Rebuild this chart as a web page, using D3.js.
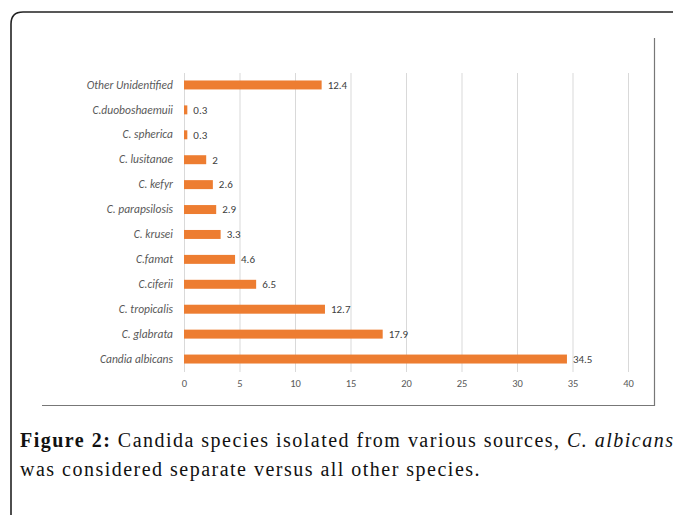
<!DOCTYPE html>
<html>
<head>
<meta charset="utf-8">
<script src="https://cdn.jsdelivr.net/npm/d3@7"></script>
<style>
  html, body { margin: 0; padding: 0; background: #fff; overflow: hidden; }
  svg { display: block; }
</style>
</head>
<body>
<svg id="chart" width="673" height="515"></svg>
<script>
// Candida species isolated from various sources (%)
const species = [
  "Other Unidentified", "C.duoboshaemuii", "C. spherica", "C. lusitanae",
  "C. kefyr", "C. parapsilosis", "C. krusei", "C.famat", "C.ciferii",
  "C. tropicalis", "C. glabrata", "Candia albicans"
];
const percentages = [12.4, 0.3, 0.3, 2, 2.6, 2.9, 3.3, 4.6, 6.5, 12.7, 17.9, 34.5];
const xTicks = [0, 5, 10, 15, 20, 25, 30, 35, 40];

const sansFont = "Carlito, Lato, 'Open Sans', 'Liberation Sans', sans-serif";
const serifFont = "'Liberation Serif', 'DejaVu Serif', serif";

const svg = d3.select("#chart");

// outer figure frame (rounded top-left corner, runs off right and bottom)
svg.append("path")
  .attr("d", "M11,520 L11,24 Q11,12 23,12 L680,12")
  .attr("fill", "none").attr("stroke", "#222").attr("stroke-width", 1.6);

// chart panel border: right and bottom edges
svg.append("path")
  .attr("d", "M42,405.5 L654.5,405.5 L654.5,38")
  .attr("fill", "none").attr("stroke", "#777").attr("stroke-width", 1.2);

const x = d3.scaleLinear().domain([0, 40]).range([184, 628]);
const y = d3.scaleBand().domain(species).range([73, 371])
  .paddingInner(0.64).paddingOuter(0.3);

// vertical gridlines
svg.append("g").selectAll("line").data(xTicks).join("line")
  .attr("x1", d => x(d) + 0.5).attr("x2", d => x(d) + 0.5)
  .attr("y1", 73).attr("y2", 372)
  .attr("stroke", "#d9d9d9").attr("stroke-width", 1);

// x axis tick labels
const xAxis = d3.axisBottom(x).tickValues(xTicks).tickSize(0).tickPadding(0);
const gx = svg.append("g").attr("transform", "translate(0,380)").call(xAxis);
gx.select(".domain").remove();
gx.selectAll("text")
  .attr("dy", "0.71em")
  .attr("fill", "#595959")
  .style("font-family", sansFont)
  .style("font-size", "10.5px");

// category labels
const yAxis = d3.axisLeft(y).tickSize(0).tickPadding(0);
const gy = svg.append("g").attr("transform", "translate(173,0)").call(yAxis);
gy.select(".domain").remove();
gy.selectAll("text")
  .attr("fill", "#595959")
  .style("font-family", sansFont)
  .style("font-style", "italic")
  .style("font-size", "11.5px");

// bars
svg.append("g").selectAll("rect").data(species).join("rect")
  .attr("x", x(0))
  .attr("y", (d) => y(d))
  .attr("width", (d, i) => x(percentages[i]) - x(0))
  .attr("height", y.bandwidth())
  .attr("fill", "#ED7D31");

// value labels
svg.append("g").selectAll("text").data(species).join("text")
  .attr("x", (d, i) => x(percentages[i]) + 6)
  .attr("y", d => y(d) + y.bandwidth() / 2)
  .attr("dy", "0.35em")
  .attr("fill", "#404040")
  .style("font-family", sansFont)
  .style("font-size", "11px")
  .text((d, i) => percentages[i]);

// caption
const cap1 = svg.append("text")
  .attr("x", 20).attr("y", 447)
  .attr("fill", "#111")
  .style("font-family", serifFont)
  .style("font-size", "20px");
cap1.append("tspan").style("font-weight", "bold").text("Figure 2:");
cap1.append("tspan").text(" Candida species isolated from various sources, ");
cap1.append("tspan").style("font-style", "italic").text("C. albicans");

const cap2 = svg.append("text")
  .attr("x", 20).attr("y", 476)
  .attr("fill", "#111")
  .style("font-family", serifFont)
  .style("font-size", "20px")
  .text("was considered separate versus all other species.");

// slight extra tracking so the second line spans 461px
const capText = cap2.text();
const spacing = Math.max(0, (461 - cap2.node().getComputedTextLength()) / capText.length);
cap1.style("letter-spacing", spacing + "px");
cap2.style("letter-spacing", spacing + "px");
</script>
</body>
</html>
